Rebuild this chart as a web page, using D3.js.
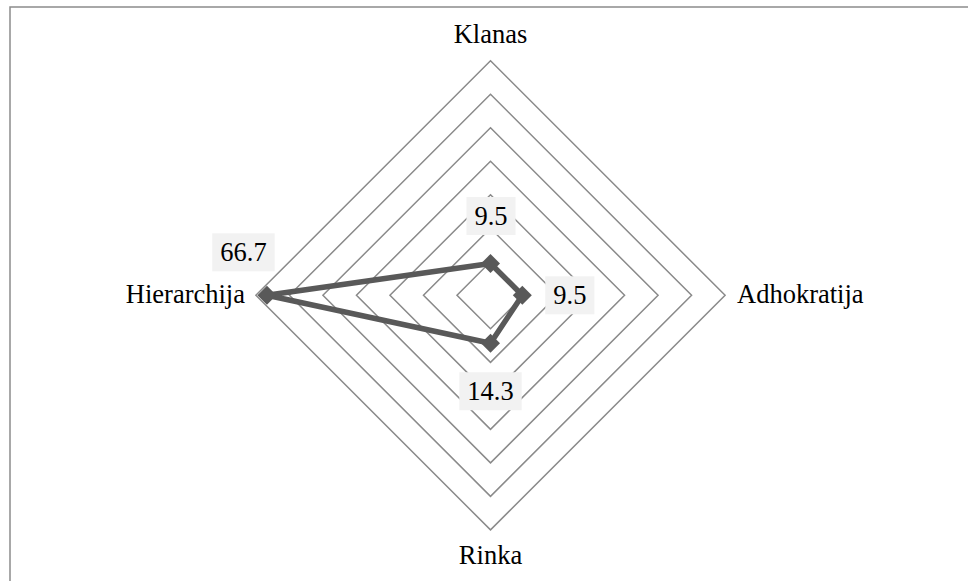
<!DOCTYPE html>
<html>
<head>
<meta charset="utf-8">
<script src="https://cdn.jsdelivr.net/npm/d3@7"></script>
<style>
  html, body { margin: 0; padding: 0; background: #fff; }
  svg { display: block; }
</style>
</head>
<body>
<svg id="chart" width="968" height="581"></svg>
<script>
// Organisational culture profile (radar)
const categories = ["Klanas", "Adhokratija", "Rinka", "Hierarchija"];
const values = [9.5, 9.5, 14.3, 66.7];
const gridLevels = [10, 20, 30, 40, 50, 60, 70];
const maxValue = 70;

const W = 968, H = 581;
const cx = 490.5, cy = 295.3, R = 234.6;
const FONT = "'Liberation Serif', 'Times New Roman', Times, 'DejaVu Serif', serif";

const svg = d3.select("#chart");

// chart frame (top and left edges visible)
svg.append("path")
  .attr("d", `M10,${H + 2} L10,7 L${W + 2},7`)
  .attr("fill", "none")
  .attr("stroke", "#8c8c8c")
  .attr("stroke-width", 1.5);

const rScale = d3.scaleLinear().domain([0, maxValue]).range([0, R]);
const angle = d3.scaleBand().domain(categories).range([0, 2 * Math.PI]);
const ang = c => angle(c); // 0 = up, clockwise

const pt = (c, v) => {
  const a = ang(c), r = rScale(v);
  return [cx + r * Math.sin(a), cy - r * Math.cos(a)];
};

const line = d3.lineRadial()
  .angle(d => ang(d.c))
  .radius(d => rScale(d.v))
  .curve(d3.curveLinearClosed);

const g = svg.append("g").attr("transform", `translate(${cx},${cy})`);

// grid rings
g.selectAll("path.ring")
  .data(gridLevels)
  .join("path")
  .attr("class", "ring")
  .attr("d", lv => line(categories.map(c => ({ c, v: lv }))))
  .attr("fill", "none")
  .attr("stroke", "#8a8a8a")
  .attr("stroke-width", 1.5);

// series line
const series = categories.map((c, i) => ({ c, v: values[i] }));
g.append("path")
  .attr("d", line(series))
  .attr("fill", "none")
  .attr("stroke", "#595959")
  .attr("stroke-width", 5.5)
  .attr("stroke-linejoin", "round");

// diamond markers
const diamond = d3.symbol().type(d3.symbolDiamond2).size(230);
svg.selectAll("path.marker")
  .data(series)
  .join("path")
  .attr("class", "marker")
  .attr("transform", d => { const p = pt(d.c, d.v); return `translate(${p[0]},${p[1]})`; })
  .attr("d", diamond)
  .attr("fill", "#595959");

// category labels
const fs = 26.5;
const catPos = {
  "Klanas": { dx: 0, dy: -252, anchor: "middle" },
  "Adhokratija": { dx: 246.5, dy: 8, anchor: "start" },
  "Rinka": { dx: 0, dy: 269, anchor: "middle" },
  "Hierarchija": { dx: -245.5, dy: 8, anchor: "end" }
};
svg.selectAll("text.cat")
  .data(categories)
  .join("text")
  .attr("class", "cat")
  .attr("x", c => cx + catPos[c].dx)
  .attr("y", c => cy + catPos[c].dy)
  .attr("text-anchor", c => catPos[c].anchor)
  .attr("font-family", FONT)
  .attr("font-size", fs)
  .attr("fill", "#000")
  .text(c => c);

// value labels with light background boxes
const labelOffset = {
  "Klanas": [0.5, -47.5],
  "Adhokratija": [47.5, 0],
  "Rinka": [0, 48],
  "Hierarchija": [-23.5, -43]
};
const lbl = svg.selectAll("g.vlabel")
  .data(series)
  .join("g")
  .attr("class", "vlabel")
  .attr("transform", d => {
    const p = pt(d.c, d.v), o = labelOffset[d.c];
    return `translate(${p[0] + o[0]},${p[1] + o[1]})`;
  });

lbl.append("text")
  .attr("text-anchor", "middle")
  .attr("dy", "0.34em")
  .attr("font-family", FONT)
  .attr("font-size", fs)
  .attr("fill", "#000")
  .text(d => d3.format(".1f")(d.v));

lbl.each(function () {
  const grp = d3.select(this);
  const bb = grp.select("text").node().getBBox();
  const padX = 8;
  grp.insert("rect", "text")
    .attr("x", bb.x - padX)
    .attr("y", -19)
    .attr("width", bb.width + 2 * padX)
    .attr("height", 38)
    .attr("fill", "#f2f2f2");
});
</script>
</body>
</html>
